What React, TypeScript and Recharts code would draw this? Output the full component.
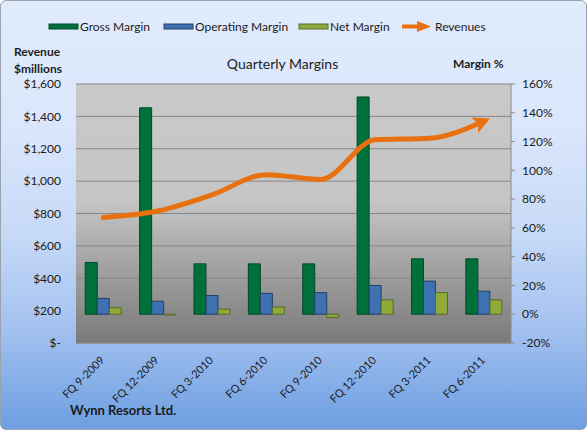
import React from "react";
import {
  ComposedChart,
  Bar,
  Line,
  XAxis,
  YAxis,
  CartesianGrid,
  Legend,
} from "recharts";

const QUARTERS = [
  "FQ 9-2009",
  "FQ 12-2009",
  "FQ 3-2010",
  "FQ 6-2010",
  "FQ 9-2010",
  "FQ 12-2010",
  "FQ 3-2011",
  "FQ 6-2011",
];
const GROSS_MARGIN = [36, 143.5, 35, 35, 35, 151, 38.5, 38.5];
const OPERATING_MARGIN = [11, 9, 13, 14.5, 15, 20, 23, 16];
const NET_MARGIN = [4.5, -0.5, 3.5, 5, -2.3, 10, 15, 10];
const REVENUES = [775, 815, 915, 1040, 1010, 1255, 1265, 1370];

const LEFT_TICKS = [0, 200, 400, 600, 800, 1000, 1200, 1400, 1600];
const RIGHT_TICKS = [-20, 0, 20, 40, 60, 80, 100, 120, 140, 160];

const COLORS = {
  gross: "#00703A",
  grossEdge: "#004A26",
  operating: "#3F70B0",
  operatingEdge: "#22406A",
  net: "#8DAA3B",
  netEdge: "#56692A",
  revenue: "#E8700E",
  text: "#1C1C1C",
};

const FONT = "Lato, 'Open Sans', sans-serif";

const data = QUARTERS.map((q, i) => ({
  quarter: q,
  gross: GROSS_MARGIN[i],
  operating: OPERATING_MARGIN[i],
  net: NET_MARGIN[i],
  revenue: REVENUES[i],
}));

const fmtDollar = (v: number) => (v === 0 ? "$-" : `$${v.toLocaleString("en-US")}`);

// rotated category labels, ending just below the category centre
const QuarterTick = ({ x, y, payload }: any) => (
  <text
    x={x + 2}
    y={y + 10}
    transform={`rotate(-45, ${x + 2}, ${y + 10})`}
    textAnchor="end"
    fontSize={11}
    fontFamily={FONT}
    fill={COLORS.text}
  >
    {payload.value}
  </text>
);

const LegendContent = () => {
  const items = [
    { label: "Gross Margin", color: COLORS.gross, edge: COLORS.grossEdge, x: 48 },
    { label: "Operating Margin", color: COLORS.operating, edge: COLORS.operatingEdge, x: 163 },
    { label: "Net Margin", color: COLORS.net, edge: COLORS.netEdge, x: 298 },
  ];
  return (
    <svg width={587} height={20} style={{ display: "block" }}>
      {items.map((it) => (
        <g key={it.label}>
          <rect x={it.x} y={7} width={29} height={5} fill={it.color} stroke={it.edge} strokeWidth={1} />
          <text x={it.x + 31} y={14} fontSize={12} fontFamily={FONT} fill={COLORS.text}>
            {it.label}
          </text>
        </g>
      ))}
      <line x1={401} y1={9.5} x2={418} y2={9.5} stroke={COLORS.revenue} strokeWidth={4} />
      <polygon points="416,4 430,9.5 416,15" fill={COLORS.revenue} />
      <text x={434} y={14} fontSize={12} fontFamily={FONT} fill={COLORS.text}>
        Revenues
      </text>
    </svg>
  );
};

export default function App() {
  return (
    <div
      style={{
        position: "absolute",
        left: 0,
        top: 0,
        width: 585,
        height: 428,
        border: "1px solid #9aa3ad",
        borderRadius: 6,
        overflow: "hidden",
        background:
          "linear-gradient(180deg, #e0ebfc 0%, #dae6fb 30%, #c5d9f7 55%, #a6c3f0 75%, #6e9fe2 100%)",
        fontFamily: FONT,
      }}
    >
      <div style={{ position: "absolute", left: 13, top: 42, fontSize: 12, fontWeight: 700, lineHeight: "17px", color: COLORS.text }}>
        Revenue
        <br />
        $millions
      </div>
      <div style={{ position: "absolute", left: 0, width: 563, top: 54, textAlign: "center", fontSize: 14, color: COLORS.text }}>
        Quarterly Margins
      </div>
      <div style={{ position: "absolute", left: 452, top: 55, fontSize: 12, fontWeight: 700, color: COLORS.text }}>
        Margin %
      </div>
      <div style={{ position: "absolute", left: 69, top: 401, fontSize: 13, fontWeight: 700, color: COLORS.text }}>
        Wynn Resorts Ltd.
      </div>

      <ComposedChart
        width={585}
        height={428}
        data={data}
        margin={{ top: 63, right: 0, bottom: 24, left: 0 }}
        barGap={0}
        barCategoryGap="17%"
      >
        <defs>
          <linearGradient id="plotBg" x1="0" y1="0" x2="0" y2="1">
            <stop offset="0%" stopColor="#c9c9c9" />
            <stop offset="45%" stopColor="#c5c5c5" />
            <stop offset="100%" stopColor="#7a7a7a" />
          </linearGradient>
          <marker
            id="revArrow"
            viewBox="0 0 10 10"
            refX={6}
            refY={5}
            markerWidth={3.6}
            markerHeight={3.4}
            orient="auto"
          >
            <path d="M0,0 L10,5 L0,10 L2.5,5 z" fill={COLORS.revenue} />
          </marker>
        </defs>
        <CartesianGrid
          yAxisId="rev"
          vertical={false}
          stroke="#878787"
          strokeWidth={1}
          fill="url(#plotBg)"
          fillOpacity={1}
        />
        <XAxis
          dataKey="quarter"
          height={62}
          interval={0}
          tick={<QuarterTick />}
          tickLine={false}
          axisLine={{ stroke: "#8a8a8a" }}
        />
        <YAxis
          yAxisId="rev"
          orientation="left"
          width={75}
          domain={[0, 1600]}
          ticks={LEFT_TICKS}
          tickFormatter={fmtDollar}
          tickLine={false}
          axisLine={false}
          tickSize={0}
          tickMargin={15}
          tick={{ fontSize: 12, fill: COLORS.text, fontFamily: FONT }}
        />
        <YAxis
          yAxisId="pct"
          orientation="right"
          width={75}
          domain={[-20, 160]}
          ticks={RIGHT_TICKS}
          tickFormatter={(v: number) => `${v}%`}
          tickSize={4}
          tickMargin={7}
          tickLine={{ stroke: "#8a8a8a" }}
          axisLine={{ stroke: "#8a8a8a" }}
          tick={{ fontSize: 12, fill: COLORS.text, fontFamily: FONT, textAnchor: "start" }}
        />
        <Legend
          verticalAlign="top"
          wrapperStyle={{ position: "absolute", top: 16, left: 0, width: 587 }}
          content={<LegendContent />}
        />
        <Bar yAxisId="pct" dataKey="gross" name="Gross Margin" fill={COLORS.gross} stroke={COLORS.grossEdge} strokeWidth={1} isAnimationActive={false} />
        <Bar yAxisId="pct" dataKey="operating" name="Operating Margin" fill={COLORS.operating} stroke={COLORS.operatingEdge} strokeWidth={1} isAnimationActive={false} />
        <Bar yAxisId="pct" dataKey="net" name="Net Margin" fill={COLORS.net} stroke={COLORS.netEdge} strokeWidth={1} isAnimationActive={false} />
        <Line
          yAxisId="rev"
          dataKey="revenue"
          name="Revenues"
          type="monotone"
          stroke={COLORS.revenue}
          strokeWidth={5}
          strokeLinecap="round"
          dot={false}
          markerEnd="url(#revArrow)"
          isAnimationActive={false}
        />
      </ComposedChart>
    </div>
  );
}
